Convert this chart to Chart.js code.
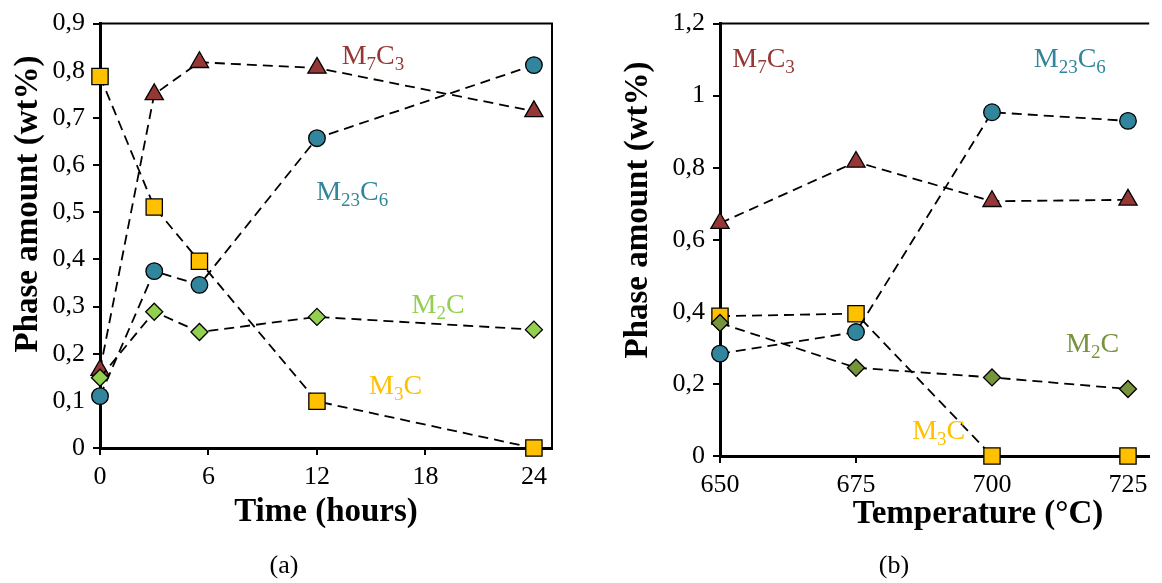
<!DOCTYPE html>
<html>
<head>
<meta charset="utf-8">
<script src="https://cdn.jsdelivr.net/npm/chart.js@4.4.1/dist/chart.umd.min.js"></script>
<style>
  html, body { margin: 0; padding: 0; background: #fff; overflow: hidden; }
  #wrap { position: relative; width: 1162px; height: 583px; }
  .box { position: absolute; top: 0; width: 581px; height: 583px; }
  .cap { position: absolute; top: 565px; transform: translate(-50%, -50%);
         font: 26px "Liberation Serif", "Times New Roman", serif; color: #000; }
</style>
</head>
<body>
<div id="wrap">
  <div class="box" style="left:0"><canvas id="chartA"></canvas></div>
  <div class="box" style="left:581px"><canvas id="chartB"></canvas></div>
  <div class="cap" style="left:284px">(a)</div>
  <div class="cap" style="left:894px">(b)</div>
</div>
<script>
// (a) phase amount vs ageing time
const timeHours = [0, 3, 5.5, 12, 24];
const timeM7C3 = [0.165, 0.75, 0.818, 0.806, 0.714];
const timeM23C6 = [0.11, 0.375, 0.346, 0.657, 0.812];
const timeM2C = [0.149, 0.289, 0.246, 0.278, 0.251];
const timeM3C = [0.788, 0.511, 0.396, 0.099, 0];
const timeXTicks = [0, 6, 12, 18, 24];
const timeYTicks = [0, 0.1, 0.2, 0.3, 0.4, 0.5, 0.6, 0.7, 0.8, 0.9];

// (b) phase amount vs temperature
const tempC = [650, 675, 700, 725];
const tempM7C3 = [0.646, 0.816, 0.707, 0.711];
const tempM23C6 = [0.284, 0.344, 0.954, 0.93];
const tempM2C = [0.369, 0.245, 0.218, 0.186];
const tempM3C = [0.388, 0.395, 0, 0];
const tempXTicks = [650, 675, 700, 725];
const tempYTicks = [0, 0.2, 0.4, 0.6, 0.8, 1, 1.2];

// phase name labels, anchored in data units
const phaseNames = ["M7C3", "M23C6", "M2C", "M3C"];
const timeLabelAt = [[15.1, 0.834], [13.95, 0.545], [18.7, 0.306], [16.35, 0.134]];
const tempLabelAt = [[658, 1.105], [714.3, 1.105], [718.5, 0.313], [690.2, 0.071]];

const FONT = '"Liberation Serif", "Times New Roman", serif';
Chart.defaults.font.family = FONT;
Chart.defaults.color = "#000";

const pts = (xs, ys) => xs.map((x, i) => ({ x, y: ys[i] }));
const fmt = (v) => Number(v).toLocaleString("fr-FR");

function series(data, color, style, radius) {
  return {
    data,
    showLine: true,
    borderColor: "#000",
    borderWidth: 1.8,
    borderDash: [10, 6],
    pointStyle: style,
    pointRadius: radius,
    pointBackgroundColor: color,
    pointBorderColor: "#000",
    pointBorderWidth: 1.3,
    clip: false,
  };
}

// draws chemical formula with digits as subscripts, centred on (cx, cy)
function drawFormula(ctx, text, cx, cy, color) {
  const big = 28, small = 19;
  const parts = text.match(/[A-Z]+|\d+/g);
  let w = 0;
  parts.forEach((p) => {
    ctx.font = `${/\d/.test(p) ? small : big}px ${FONT}`;
    w += ctx.measureText(p).width;
  });
  let x = cx - w / 2;
  const base = cy + 9;
  ctx.fillStyle = color;
  ctx.textAlign = "left";
  ctx.textBaseline = "alphabetic";
  parts.forEach((p) => {
    const sub = /\d/.test(p);
    ctx.font = `${sub ? small : big}px ${FONT}`;
    ctx.fillText(p, x, sub ? base + 6 : base);
    x += ctx.measureText(p).width;
  });
}

const decor = {
  id: "decor",
  beforeDatasetsDraw(chart, args, opts) {
    const { ctx, chartArea: a } = chart;
    ctx.save();
    ctx.strokeStyle = "#000";
    ctx.lineWidth = 2;
    ctx.beginPath();
    ctx.moveTo(a.left, a.top);
    ctx.lineTo(a.right, a.top);
    if (opts.rightBorder) ctx.lineTo(a.right, a.bottom);
    ctx.stroke();
    ctx.restore();
  },
  afterDraw(chart, args, opts) {
    const { ctx, scales: { x, y } } = chart;
    ctx.save();
    opts.labels.forEach(([lx, ly], i) => {
      drawFormula(ctx, phaseNames[i], x.getPixelForValue(lx), y.getPixelForValue(ly), opts.colors[i]);
    });
    ctx.fillStyle = "#000";
    ctx.font = `bold 33px ${FONT}`;
    ctx.textAlign = "center";
    ctx.textBaseline = "middle";
    ctx.fillText(opts.xTitle, opts.xTitleAt[0], opts.xTitleAt[1]);
    ctx.translate(opts.yTitleAt[0], opts.yTitleAt[1]);
    ctx.rotate(-Math.PI / 2);
    ctx.fillText(opts.yTitle, 0, 0);
    ctx.restore();
  },
};

function axes(xMin, xMax, xTicks, yMax, yTicks, yWidth, xHeight) {
  const tickFont = { size: 26 };
  const grid = { drawOnChartArea: false, drawTicks: true, tickLength: 7, color: "#000", lineWidth: 2 };
  const border = { display: true, color: "#000", width: 3 };
  return {
    x: {
      type: "linear", min: xMin, max: xMax,
      afterFit: (s) => { s.height = xHeight; },
      afterBuildTicks: (s) => { s.ticks = xTicks.map((v) => ({ value: v })); },
      ticks: { font: tickFont, padding: 7, maxRotation: 0, autoSkip: false },
      grid, border,
    },
    y: {
      type: "linear", min: 0, max: yMax,
      afterFit: (s) => { s.width = yWidth; },
      afterBuildTicks: (s) => { s.ticks = yTicks.map((v) => ({ value: v })); },
      ticks: { font: tickFont, padding: 8, callback: fmt },
      grid, border,
    },
  };
}

new Chart(document.getElementById("chartA"), {
  type: "scatter",
  data: {
    datasets: [
      series(pts(timeHours, timeM2C), "#92D050", "rectRot", 8.5),
      series(pts(timeHours, timeM23C6), "#31859C", "circle", 8.3),
      series(pts(timeHours, timeM7C3), "#953735", "triangle", 10.5),
      series(pts(timeHours, timeM3C), "#FFC000", "rect", 11.5),
    ],
  },
  options: {
    responsive: true,
    maintainAspectRatio: false,
    animation: false,
    events: [],
    layout: { padding: { left: 0, top: 18, right: 29, bottom: 0 } },
    scales: axes(0, 25, timeXTicks, 0.9, timeYTicks, 100, 135),
    plugins: {
      legend: { display: false },
      tooltip: { enabled: false },
      decor: {
        rightBorder: true,
        labels: timeLabelAt,
        colors: ["#953735", "#31859C", "#92D050", "#FFC000"],
        xTitle: "Time (hours)", xTitleAt: [326, 512],
        yTitle: "Phase amount (wt%)", yTitleAt: [28, 204],
      },
    },
  },
  plugins: [decor],
});

new Chart(document.getElementById("chartB"), {
  type: "scatter",
  data: {
    datasets: [
      series(pts(tempC, tempM2C), "#77933C", "rectRot", 8.5),
      series(pts(tempC, tempM23C6), "#31859C", "circle", 8.3),
      series(pts(tempC, tempM7C3), "#953735", "triangle", 10.5),
      series(pts(tempC, tempM3C), "#FFC000", "rect", 11.5),
    ],
  },
  options: {
    responsive: true,
    maintainAspectRatio: false,
    animation: false,
    events: [],
    layout: { padding: { left: 0, top: 19, right: 0, bottom: 0 } },
    scales: axes(650, 728.9, tempXTicks, 1.2, tempYTicks, 139, 127),
    plugins: {
      legend: { display: false },
      tooltip: { enabled: false },
      decor: {
        rightBorder: false,
        labels: tempLabelAt,
        colors: ["#953735", "#31859C", "#77933C", "#FFC000"],
        xTitle: "Temperature (°C)", xTitleAt: [397, 514],
        yTitle: "Phase amount (wt%)", yTitleAt: [57, 210],
      },
    },
  },
  plugins: [decor],
});
</script>
</body>
</html>
